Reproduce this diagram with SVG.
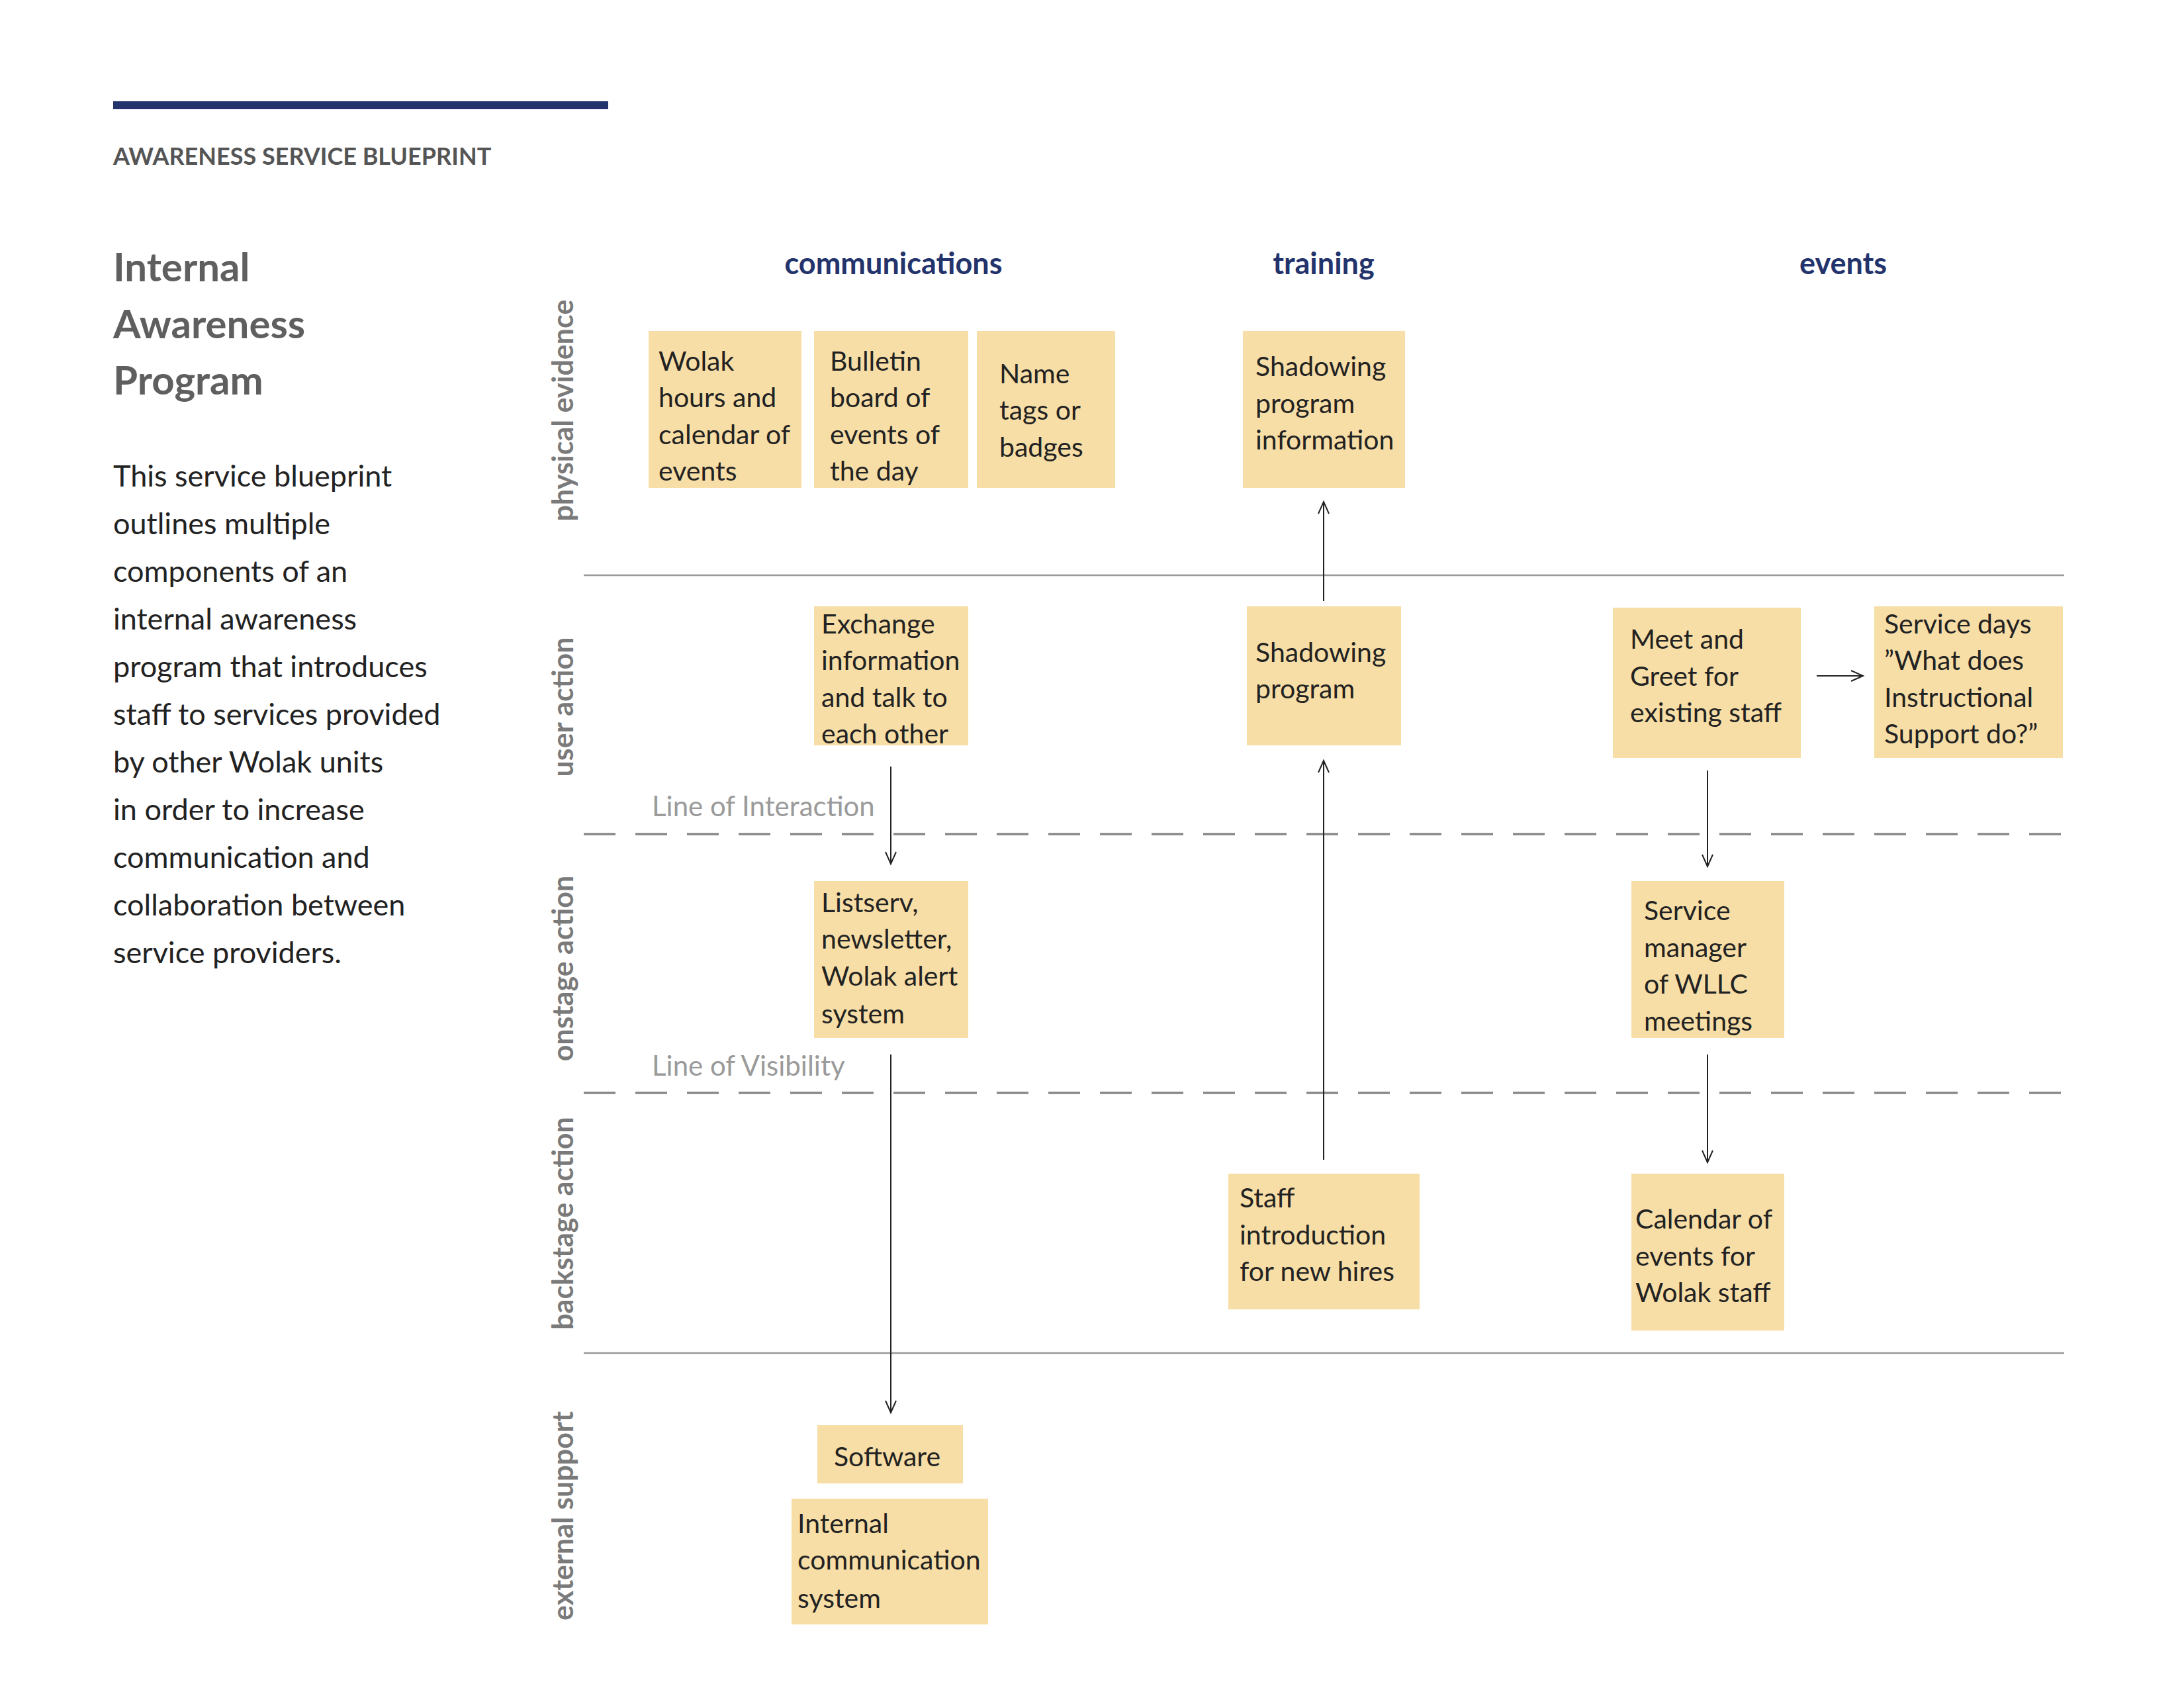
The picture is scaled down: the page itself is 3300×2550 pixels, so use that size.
<svg xmlns="http://www.w3.org/2000/svg" width="3300" height="2550" viewBox="0 0 3300 2550">
<defs>
<marker id="ah" markerWidth="24" markerHeight="24" refX="20" refY="12" orient="auto" markerUnits="userSpaceOnUse"><path d="M2,4 L20,12 L2,20" fill="none" stroke="#222" stroke-width="2"/></marker>
</defs>
<style>
.box{fill:#f7dea6}
.t{font-family:Lato,"Open Sans",sans-serif;font-size:41px;fill:#222}
.lane{font-family:Lato,"Open Sans",sans-serif;font-size:43px;font-weight:bold;fill:#7a7a7a}
.hdr{font-family:Lato,"Open Sans",sans-serif;font-size:45px;font-weight:bold;fill:#23336b}
.ln{font-family:Lato,"Open Sans",sans-serif;font-size:42px;fill:#9a9a9a}
.p{font-family:Lato,"Open Sans",sans-serif;font-size:45px;fill:#222}
.solid{stroke:#999;stroke-width:2.5}
.dash{stroke:#888;stroke-width:3.5;stroke-dasharray:48 30}
.c{stroke:#222;stroke-width:2;fill:none;marker-end:url(#ah)}
</style>
<rect width="3300" height="2550" fill="#fff"/>
<g id="header">
<rect x="171" y="153" width="748" height="12" fill="#23336b"/>
<text x="171" y="249" font-family="Lato,sans-serif" font-size="36" font-weight="bold" fill="#555">AWARENESS SERVICE BLUEPRINT</text>
<text font-family="Lato,sans-serif" font-size="60" font-weight="bold" fill="#5f5f5f"><tspan x="171" y="425">Internal</tspan><tspan x="171" y="511">Awareness</tspan><tspan x="171" y="596">Program</tspan></text>
<text class="p"><tspan x="171" y="735">This service blueprint</tspan><tspan x="171" y="807">outlines multiple</tspan><tspan x="171" y="879">components of an</tspan><tspan x="171" y="951">internal awareness</tspan><tspan x="171" y="1023">program that introduces</tspan><tspan x="171" y="1095">staff to services provided</tspan><tspan x="171" y="1167">by other Wolak units</tspan><tspan x="171" y="1239">in order to increase</tspan><tspan x="171" y="1311">communication and</tspan><tspan x="171" y="1383">collaboration between</tspan><tspan x="171" y="1455">service providers.</tspan></text>
</g>
<g id="lanes">
<text class="lane" text-anchor="middle" transform="translate(866,620) rotate(-90)">physical evidence</text>
<text class="lane" text-anchor="middle" transform="translate(866,1068) rotate(-90)">user action</text>
<text class="lane" text-anchor="middle" transform="translate(866,1463) rotate(-90)">onstage action</text>
<text class="lane" text-anchor="middle" transform="translate(866,1848) rotate(-90)">backstage action</text>
<text class="lane" text-anchor="middle" transform="translate(866,2290) rotate(-90)">external support</text>
<line class="solid" x1="882" y1="869" x2="3119" y2="869"/>
<line class="dash" x1="882" y1="1260" x2="3119" y2="1260"/>
<line class="dash" x1="882" y1="1651" x2="3119" y2="1651"/>
<line class="solid" x1="882" y1="2044" x2="3119" y2="2044"/>
<text class="ln" x="985" y="1233">Line of Interaction</text>
<text class="ln" x="985" y="1625">Line of Visibility</text>
<text class="hdr" x="1350" y="414" text-anchor="middle">communications</text>
<text class="hdr" x="2000" y="414" text-anchor="middle">training</text>
<text class="hdr" x="2785" y="414" text-anchor="middle">events</text>
</g>
<g id="n1"><rect class="box" x="980" y="500" width="231" height="237"/><text class="t"><tspan x="995" y="560">Wolak</tspan><tspan x="995" y="615">hours and</tspan><tspan x="995" y="671">calendar of</tspan><tspan x="995" y="726">events</tspan></text></g>
<g id="n2"><rect class="box" x="1230" y="500" width="233" height="237"/><text class="t"><tspan x="1254" y="560">Bulletin</tspan><tspan x="1254" y="615">board of</tspan><tspan x="1254" y="671">events of</tspan><tspan x="1254" y="726">the day</tspan></text></g>
<g id="n3"><rect class="box" x="1476" y="500" width="209" height="237"/><text class="t"><tspan x="1510" y="579">Name</tspan><tspan x="1510" y="634">tags or</tspan><tspan x="1510" y="690">badges</tspan></text></g>
<g id="n4"><rect class="box" x="1878" y="500" width="245" height="237"/><text class="t"><tspan x="1897" y="568">Shadowing</tspan><tspan x="1897" y="624">program</tspan><tspan x="1897" y="679">information</tspan></text></g>
<g id="n5"><rect class="box" x="1230" y="916" width="233" height="210"/><text class="t"><tspan x="1241" y="957">Exchange</tspan><tspan x="1241" y="1012">information</tspan><tspan x="1241" y="1068">and talk to</tspan><tspan x="1241" y="1123">each other</tspan></text></g>
<g id="n6"><rect class="box" x="1884" y="916" width="233" height="210"/><text class="t"><tspan x="1897" y="1000">Shadowing</tspan><tspan x="1897" y="1055">program</tspan></text></g>
<g id="n7"><rect class="box" x="2437" y="918" width="284" height="227"/><text class="t"><tspan x="2463" y="980">Meet and</tspan><tspan x="2463" y="1036">Greet for</tspan><tspan x="2463" y="1091">existing staff</tspan></text></g>
<g id="n8"><rect class="box" x="2832" y="916" width="285" height="229"/><text class="t"><tspan x="2847" y="957">Service days</tspan><tspan x="2847" y="1012">”What does</tspan><tspan x="2847" y="1068">Instructional</tspan><tspan x="2847" y="1123">Support do?”</tspan></text></g>
<g id="n9"><rect class="box" x="1230" y="1331" width="233" height="237"/><text class="t"><tspan x="1241" y="1378">Listserv,</tspan><tspan x="1241" y="1433">newsletter,</tspan><tspan x="1241" y="1489">Wolak alert</tspan><tspan x="1241" y="1546">system</tspan></text></g>
<g id="n10"><rect class="box" x="2465" y="1331" width="231" height="237"/><text class="t"><tspan x="2484" y="1390">Service</tspan><tspan x="2484" y="1446">manager</tspan><tspan x="2484" y="1501">of WLLC</tspan><tspan x="2484" y="1557">meetings</tspan></text></g>
<g id="n11"><rect class="box" x="1856" y="1773" width="289" height="205"/><text class="t"><tspan x="1873" y="1824">Staff</tspan><tspan x="1873" y="1880">introduction</tspan><tspan x="1873" y="1935">for new hires</tspan></text></g>
<g id="n12"><rect class="box" x="2465" y="1773" width="231" height="237"/><text class="t"><tspan x="2471" y="1856">Calendar of</tspan><tspan x="2471" y="1912">events for</tspan><tspan x="2471" y="1967">Wolak staff</tspan></text></g>
<g id="n13"><rect class="box" x="1235" y="2153" width="220" height="88"/><text class="t" x="1260" y="2215">Software</text></g>
<g id="n14"><rect class="box" x="1196" y="2264" width="297" height="190"/><text class="t"><tspan x="1205" y="2316">Internal</tspan><tspan x="1205" y="2371">communication</tspan><tspan x="1205" y="2429">system</tspan></text></g>
<g id="connectors">
<line class="c" x1="2000" y1="908" x2="2000" y2="758"/>
<line class="c" x1="1346" y1="1158" x2="1346" y2="1305"/>
<line class="c" x1="2000" y1="1752" x2="2000" y2="1149"/>
<line class="c" x1="1346" y1="1593" x2="1346" y2="2134"/>
<line class="c" x1="2580" y1="1164" x2="2580" y2="1309"/>
<line class="c" x1="2580" y1="1593" x2="2580" y2="1756"/>
<line class="c" x1="2745" y1="1021" x2="2815" y2="1021"/>
</g>
</svg>
